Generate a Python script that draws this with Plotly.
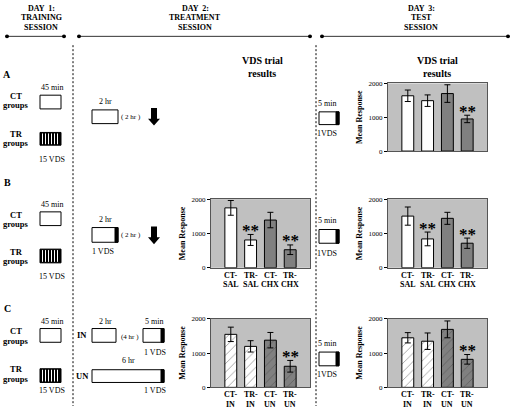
import plotly.graph_objects as go

W, H = 511, 410
FONT = "Liberation Serif"


def X(p):
    return p / W


def Y(p):
    return 1 - p / H


# ---------------- data ----------------
categories_sal = ["CT-<br>SAL", "TR-<br>SAL", "CT-<br>CHX", "TR-<br>CHX"]
categories_un = ["CT-<br>IN", "TR-<br>IN", "CT-<br>UN", "TR-<br>UN"]

a_test_mean = [1635, 1490, 1700, 950]
a_test_err = [170, 170, 260, 110]

b_treat_mean = [1745, 810, 1390, 525]
b_treat_err = [215, 160, 225, 140]

b_test_mean = [1505, 840, 1440, 715]
b_test_err = [265, 200, 175, 150]

c_treat_mean = [1545, 1195, 1375, 615]
c_treat_err = [210, 165, 225, 170]

c_test_mean = [1445, 1345, 1690, 817]
c_test_err = [150, 240, 245, 140]

# significant bars (index) per panel
a_test_sig = [3]
b_treat_sig = [1, 3]
b_test_sig = [1, 3]
c_treat_sig = [3]
c_test_sig = [3]

ytick_vals = [0, 1000, 2000]
ytick_text = ["0", "1000", "2000"]

bar_colors = ["white", "white", "#808080", "#808080"]
hatch_colors = ["black", "black", "#2a2a2a", "#2a2a2a"]

# panel layout (pixel boxes)
panels = [
    # name, cats, mean, err, sig, x0, x1, y0, y1, hatched, show_xlabels
    ("1", categories_sal, a_test_mean, a_test_err, a_test_sig, 388, 487, 81, 150, False, False),
    ("2", categories_sal, b_treat_mean, b_treat_err, b_treat_sig, 211, 310, 199, 269, False, True),
    ("3", categories_sal, b_test_mean, b_test_err, b_test_sig, 388, 487, 199, 269, False, True),
    ("4", categories_un, c_treat_mean, c_treat_err, c_treat_sig, 211, 310, 321, 391, True, True),
    ("5", categories_un, c_test_mean, c_test_err, c_test_sig, 388, 487, 321, 391, True, True),
]

fig = go.Figure()
annotations = []
shapes = []

for name, cats, mean, err, sig, x0, x1, y0, y1, hatched, showx in panels:
    marker = dict(color=bar_colors, line=dict(color="black", width=1))
    if hatched:
        marker["pattern"] = dict(shape="/", fgcolor=hatch_colors, size=6, solidity=0.15,
                                 fillmode="overlay")
    fig.add_trace(go.Bar(
        x=cats, y=mean, width=0.6,
        error_y=dict(type="data", array=err, color="black", thickness=1, width=3),
        marker=marker,
        xaxis="x" + name, yaxis="y" + name, showlegend=False,
    ))
    xa = "xaxis" if name == "1" else "xaxis" + name
    ya = "yaxis" if name == "1" else "yaxis" + name
    fig.layout[xa] = dict(
        domain=[X(x0), X(x1)], anchor="y" + name, range=[-1, 4],
        showticklabels=False, ticks="", showgrid=False, zeroline=False,
        showline=True, linecolor="#555", linewidth=1, mirror=True,
        fixedrange=True,
    )
    fig.layout[ya] = dict(
        domain=[Y(y1), Y(y0)], anchor="x" + name, range=[0, 2000],
        tickvals=ytick_vals, ticktext=ytick_text, ticks="outside", ticklen=3,
        tickcolor="black", showgrid=False, zeroline=False,
        showline=True, linecolor="#555", linewidth=1, mirror=True,
        tickfont=dict(family=FONT, size=7, color="black"),
        title=dict(text="Mean Response", standoff=4,
                   font=dict(family=FONT, size=8, color="black", weight="bold")),
        fixedrange=True,
    )
    if showx:
        for c in cats:
            for k, part in enumerate(c.split("<br>")):
                annotations.append(dict(
                    x=c, y=0, xref="x" + name, yref="y" + name + " domain",
                    text=part, showarrow=False, yanchor="top", xanchor="center",
                    yshift=-1 - 9.3 * k,
                    font=dict(family=FONT, size=8, color="black", weight="bold"),
                ))
    for i in sig:
        annotations.append(dict(
            x=cats[i], y=mean[i] + err[i], xref="x" + name, yref="y" + name,
            text="**", showarrow=False, yanchor="middle", xanchor="center", yshift=4,
            font=dict(family=FONT, size=17, color="black", weight="bold"),
        ))


# ---------------- schematic ----------------
def txt(x, y, s, size=8, bold=False):
    annotations.append(dict(
        x=X(x), y=Y(y), xref="paper", yref="paper", text=s, showarrow=False,
        xanchor="center", yanchor="middle",
        font=dict(family=FONT, size=size, color="black", weight="bold" if bold else "normal"),
    ))


def line(x0, y0, x1, y1, color="black", width=1, dash=None):
    d = dict(type="line", xref="paper", yref="paper", x0=X(x0), y0=Y(y0), x1=X(x1), y1=Y(y1),
             line=dict(color=color, width=width))
    if dash:
        d["line"]["dash"] = dash
    shapes.append(d)


def rect(x0, y0, x1, y1, fill="white", lc="black", lw=1):
    shapes.append(dict(type="rect", xref="paper", yref="paper", x0=X(x0), y0=Y(y0), x1=X(x1), y1=Y(y1),
                       fillcolor=fill, line=dict(color=lc, width=lw)))


def dot(x, y, r=2):
    shapes.append(dict(type="circle", xref="paper", yref="paper", x0=X(x - r), y0=Y(y - r),
                       x1=X(x + r), y1=Y(y + r), fillcolor="black", line=dict(color="black", width=0)))


def vds_box(x0, y0, x1, y1):
    rect(x0, y0, x1, y1)
    rect(x1 - 3, y0, x1, y1, fill="black")


def striped(x0, y0, x1, y1):
    rect(x0, y0, x1, y1, fill="black")
    x = x0 + 2.5
    while x < x1 - 1:
        line(x, y0 + 1, x, y1 - 1, color="white", width=1)
        x += 3


def arrow(xc, y0, y1):
    sw, hw, hl = 3, 6, 7
    pts = [(xc - sw, y0), (xc + sw, y0), (xc + sw, y1 - hl), (xc + hw, y1 - hl), (xc, y1),
           (xc - hw, y1 - hl), (xc - sw, y1 - hl)]
    path = "M " + " L ".join(f"{X(a):.5f},{Y(b):.5f}" for a, b in pts) + " Z"
    shapes.append(dict(type="path", xref="paper", yref="paper", path=path, fillcolor="black",
                       line=dict(color="black", width=0)))


# header
for cx, lines_ in [(41, ["DAY  1:", "TRAINING", "SESSION"]),
                   (195, ["DAY  2:", "TREATMENT", "SESSION"]),
                   (421, ["DAY  3:", "TEST", "SESSION"])]:
    for k, s in enumerate(lines_):
        txt(cx, 4.5 + 9.5 * k, s, 8, True)
for a, b in [(7, 64), (79, 310), (322, 508)]:
    line(a, 33, b, 33, color="#333", width=1)
    dot(a, 33)
    dot(b, 33)

# dashed dividers
line(73, 42, 73, 410, dash="2px,2px")
line(316, 42, 316, 410, dash="2px,2px")

txt(262, 58, "VDS trial", 10, True)
txt(262, 71, "results", 10, True)
txt(437, 58, "VDS trial", 10, True)
txt(437, 71, "results", 10, True)

GS = 8.5  # group label size

# Row A
txt(7, 72, "A", 10, True)
txt(52, 85, "45 min")
txt(16, 94, "CT", GS, True)
txt(16, 103, "groups", GS, True)
rect(40, 93, 61, 107)
txt(16, 133, "TR", GS, True)
txt(16, 142, "groups", GS, True)
striped(40, 131, 61, 144)
txt(52, 159, "15 VDS")
txt(105, 99, "2 hr")
rect(92, 108, 118, 122)
txt(131, 115, "( 2 hr )", 7)
arrow(154, 106, 124)
txt(327, 101, "5 min")
vds_box(319, 110, 339, 123)
txt(327, 132, "1VDS")

# Row B
txt(7, 182, "B", 10, True)
txt(52, 204, "45 min")
txt(16, 215, "CT", GS, True)
txt(16, 224, "groups", GS, True)
rect(40, 212, 61, 226)
txt(16, 253, "TR", GS, True)
txt(16, 262, "groups", GS, True)
striped(40, 250, 61, 264)
txt(52, 278, "15 VDS")
txt(105, 220, "2 hr")
vds_box(92, 228, 118, 243)
txt(103, 252, "1 VDS")
txt(131, 236, "( 2 hr )", 7)
arrow(154, 227, 245)
txt(327, 221, "5 min")
vds_box(319, 230, 339, 244)
txt(327, 254, "1VDS")

# Row C
txt(7, 311, "C", 10, True)
txt(52, 324, "45 min")
txt(16, 334, "CT", GS, True)
txt(16, 344, "groups", GS, True)
rect(40, 331, 61, 345)
txt(16, 372, "TR", GS, True)
txt(16, 382, "groups", GS, True)
striped(40, 372, 61, 386)
txt(52, 394, "15 VDS")
txt(82, 338, "IN", GS, True)
rect(92, 331, 116, 345)
txt(105, 324, "2 hr")
txt(130, 340, "(4 hr )", 7)
vds_box(143, 331, 164, 345)
txt(154, 324, "5 min")
txt(155, 355, "1 VDS")
txt(128, 364, "6 hr")
txt(82, 379, "UN", GS, True)
vds_box(92, 373, 164, 386)
txt(155, 394, "1 VDS")
txt(327, 346, "5 min")
vds_box(319, 355, 339, 369)
txt(327, 378, "1VDS")

fig.update_layout(
    width=W, height=H,
    margin=dict(l=0, r=0, t=0, b=0),
    paper_bgcolor="white",
    plot_bgcolor="#c0c0c0",
    bargap=0.4,
    annotations=annotations,
    shapes=shapes,
    font=dict(family=FONT, color="black"),
    hovermode=False,
)

fig.write_html(
    "out.html",
    config={"displayModeBar": False, "staticPlot": True},
    post_script="document.body.style.margin='0';document.body.style.overflow='hidden';",
)
